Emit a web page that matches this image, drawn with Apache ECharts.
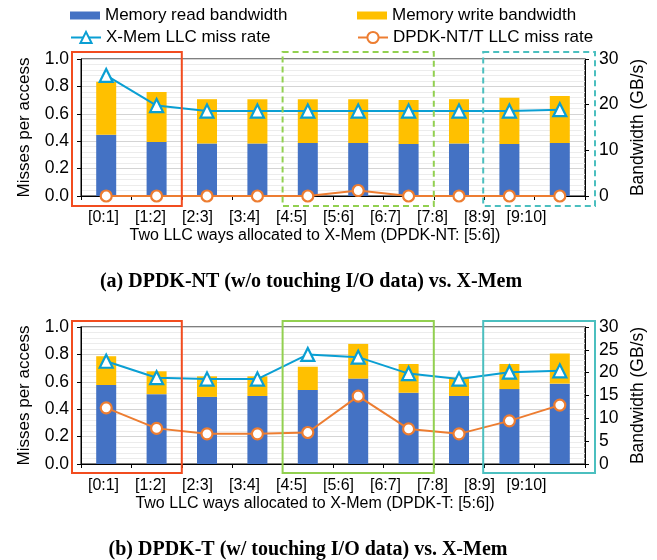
<!DOCTYPE html>
<html><head><meta charset="utf-8">
<script src="https://cdn.jsdelivr.net/npm/echarts@6/dist/echarts.min.js"></script>
<style>html,body{margin:0;padding:0;background:#fff}#c{width:657px;height:560px}</style>
</head><body><div id="c"></div>
<script>
// ---- data ----
const categories = ['[0:1]','[1:2]','[2:3]','[3:4]','[4:5]','[5:6]','[6:7]','[7:8]','[8:9]','[9:10]'];
// (a) DPDK-NT vs X-Mem
const aRead  = [13.4, 11.8, 11.5, 11.5, 11.6, 11.6, 11.4, 11.5, 11.4, 11.6];
const aWrite = [11.6, 11.0, 9.7, 9.7, 9.6, 9.6, 9.6, 9.7, 10.1, 10.3];
const aXMem  = [0.88, 0.66, 0.62, 0.62, 0.62, 0.62, 0.62, 0.62, 0.62, 0.63];
const aDpdk  = [0.0, 0.0, 0.0, 0.0, 0.0, 0.04, 0.0, 0.0, 0.0, 0.0];
// (b) DPDK-T vs X-Mem
const bRead  = [17.3, 15.3, 14.7, 14.9, 16.2, 18.7, 15.6, 14.9, 16.4, 17.6];
const bWrite = [6.3, 5.0, 4.5, 4.3, 5.1, 7.6, 6.3, 4.0, 5.5, 6.6];
const bXMem  = [0.75, 0.63, 0.62, 0.62, 0.80, 0.78, 0.66, 0.62, 0.67, 0.68];
const bDpdk  = [0.41, 0.26, 0.22, 0.22, 0.23, 0.495, 0.256, 0.22, 0.315, 0.43];
const xNameA = 'Two LLC ways allocated to X-Mem (DPDK-NT: [5:6])';
const xNameB = 'Two LLC ways allocated to X-Mem (DPDK-T: [5:6])';
const captionA = '(a) DPDK-NT (w/o touching I/O data) vs. X-Mem';
const captionB = '(b) DPDK-T (w/ touching I/O data) vs. X-Mem';

const SANS = '"Liberation Sans", Arial, sans-serif';
const C_READ = '#4472c4', C_WRITE = '#ffc000', C_XMEM = '#0a9fd3', C_DPDK = '#ed7d31';

const chart = echarts.init(document.getElementById('c'));

function plotX(grid) {
  return {
    type: 'category', gridIndex: grid, data: categories,
    axisLine: { show: true, lineStyle: { color: '#000', width: 1 } },
    axisTick: { show: true, length: 4, lineStyle: { color: '#000' } },
    axisLabel: { show: false }, splitLine: { show: false }
  };
}
function labelX(grid, name) {
  return {
    type: 'category', gridIndex: grid, data: categories,
    axisLine: { show: false }, axisTick: { show: false },
    axisLabel: { show: true, interval: 0, hideOverlap: false, fontSize: 16, fontFamily: SANS, color: '#000', margin: 14 },
    name: name, nameLocation: 'middle', nameGap: 32,
    nameTextStyle: { fontSize: 16, fontFamily: SANS, color: '#000' }
  };
}
function leftY(grid) {
  return {
    type: 'value', gridIndex: grid, position: 'left', min: 0, max: 1, interval: 0.2,
    name: 'Misses per access', nameLocation: 'middle', nameGap: 48,
    nameTextStyle: { fontSize: 17, fontFamily: SANS, color: '#000' },
    axisLine: { show: true, lineStyle: { color: '#000' } },
    axisTick: { show: true, length: 4, lineStyle: { color: '#000' } },
    axisLabel: { fontSize: 17.5, fontFamily: SANS, color: '#000', margin: 12,
      formatter: v => v.toFixed(1) },
    splitLine: { show: true, lineStyle: { color: '#d4d4d4', width: 1 } },
    minorTick: { show: false, splitNumber: 5 },
    minorSplitLine: { show: true, lineStyle: { color: '#ececec', width: 1 } }
  };
}
function rightY(grid, interval) {
  return {
    type: 'value', gridIndex: grid, position: 'right', min: 0, max: 30, interval: interval,
    name: 'Bandwidth (GB/s)', nameLocation: 'middle', nameGap: 43, nameRotate: 90,
    nameTextStyle: { fontSize: 17.5, fontFamily: SANS, color: '#000' },
    axisLine: { show: true, lineStyle: { color: '#000' } },
    axisTick: { show: true, length: 4, lineStyle: { color: '#000' } },
    axisLabel: { fontSize: 17.5, fontFamily: SANS, color: '#000', margin: 14 },
    splitLine: { show: false }
  };
}
function bar(name, xi, yi, data, color, stack) {
  return { type: 'bar', name, xAxisIndex: xi, yAxisIndex: yi, data, stack,
    barWidth: 20, itemStyle: { color }, z: 2 };
}
function line(name, xi, yi, data, color, symbol, size) {
  return { type: 'line', name, xAxisIndex: xi, yAxisIndex: yi, data,
    symbol, symbolSize: size, showAllSymbol: true,
    lineStyle: { color, width: 2 },
    itemStyle: { color: '#fff', borderColor: color, borderWidth: 2.2 }, z: 5 };
}
const legendBase = { selectedMode: false, itemWidth: 30, textStyle: { fontSize: 17, fontFamily: SANS, color: '#000' }, padding: 0 };

chart.setOption({
  animation: false,
  backgroundColor: '#fff',
  grid: [
    { left: 81, top: 59, width: 504, height: 137, show: true, borderColor: '#000', borderWidth: 1 },
    { left: 81, top: 327, width: 504, height: 137, show: true, borderColor: '#555', borderWidth: 1.5 },
    { left: 80, top: 59, width: 470, height: 137 },
    { left: 80, top: 327, width: 470, height: 137 }
  ],
  legend: [
    Object.assign({}, legendBase, { data: ['Memory read bandwidth'], left: 70, top: 7, itemHeight: 8, icon: 'rect' }),
    Object.assign({}, legendBase, { data: ['Memory write bandwidth'], left: 357, top: 7, itemHeight: 8, icon: 'rect' }),
    Object.assign({}, legendBase, { data: ['X-Mem LLC miss rate'], left: 70, top: 29, itemHeight: 14 }),
    Object.assign({}, legendBase, { data: ['DPDK-NT/T LLC miss rate'], left: 357, top: 29, itemHeight: 14 })
  ],
  xAxis: [plotX(0), plotX(1), labelX(2, xNameA), labelX(3, xNameB)],
  yAxis: [leftY(0), rightY(0, 10), leftY(1), rightY(1, 5),
    { type: 'value', gridIndex: 2, show: false, min: 0, max: 1 },
    { type: 'value', gridIndex: 3, show: false, min: 0, max: 1 }],
  series: [
    bar('Memory read bandwidth', 0, 1, aRead, C_READ, 'a'),
    bar('Memory write bandwidth', 0, 1, aWrite, C_WRITE, 'a'),
    line('X-Mem LLC miss rate', 0, 0, aXMem, C_XMEM, 'triangle', 13),
    line('DPDK-NT/T LLC miss rate', 0, 0, aDpdk, C_DPDK, 'circle', 11),
    bar('Memory read bandwidth', 1, 3, bRead, C_READ, 'b'),
    bar('Memory write bandwidth', 1, 3, bWrite, C_WRITE, 'b'),
    line('X-Mem LLC miss rate', 1, 2, bXMem, C_XMEM, 'triangle', 13),
    line('DPDK-NT/T LLC miss rate', 1, 2, bDpdk, C_DPDK, 'circle', 11)
  ]
});

// highlight boxes, placed from category boundaries of the plot axes
const boxes = [
  { xi: 0, yi: 0, from: 0, to: 1, padL: 9, padR: 0, padT: 7, padB: 10, color: '#f24c1f', dash: null },
  { xi: 0, yi: 0, from: 4, to: 6, padL: 0, padR: 0, padT: 7, padB: 10, color: '#92d050', dash: [6, 4] },
  { xi: 0, yi: 0, from: 8, to: 9, padL: 1, padR: 10, padT: 7, padB: 10, color: '#4bbfbf', dash: [6, 4] },
  { xi: 1, yi: 2, from: 0, to: 1, padL: 9, padR: 0, padT: 6, padB: 9, color: '#f24c1f', dash: null },
  { xi: 1, yi: 2, from: 4, to: 6, padL: 0, padR: 0, padT: 6, padB: 9, color: '#92d050', dash: null },
  { xi: 1, yi: 2, from: 8, to: 9, padL: 1, padR: 10, padT: 6, padB: 9, color: '#4bbfbf', dash: null }
];
const graphics = boxes.map(b => {
  const c0 = chart.convertToPixel({ xAxisIndex: b.xi }, 0);
  const c1 = chart.convertToPixel({ xAxisIndex: b.xi }, 1);
  const band = c1 - c0;
  const x0 = chart.convertToPixel({ xAxisIndex: b.xi }, b.from) - band / 2 - b.padL;
  const x1 = chart.convertToPixel({ xAxisIndex: b.xi }, b.to) + band / 2 + b.padR;
  const yTop = chart.convertToPixel({ yAxisIndex: b.yi }, 1) - b.padT;
  const yBot = chart.convertToPixel({ yAxisIndex: b.yi }, 0) + b.padB;
  return { type: 'rect', z: 10, shape: { x: x0, y: yTop, width: x1 - x0, height: yBot - yTop },
    style: { fill: 'none', stroke: b.color, lineWidth: 2, lineDash: b.dash } };
});
graphics.push(
  { type: 'text', z: 10, x: 311, y: 282, style: { text: captionA, fill: '#000', align: 'center', verticalAlign: 'middle',
    font: 'bold 20px "Liberation Serif", "DejaVu Serif", serif' } },
  { type: 'text', z: 10, x: 308, y: 550, style: { text: captionB, fill: '#000', align: 'center', verticalAlign: 'middle',
    font: 'bold 20px "Liberation Serif", "DejaVu Serif", serif' } }
);
chart.setOption({ graphic: graphics });
</script>
</body></html>
